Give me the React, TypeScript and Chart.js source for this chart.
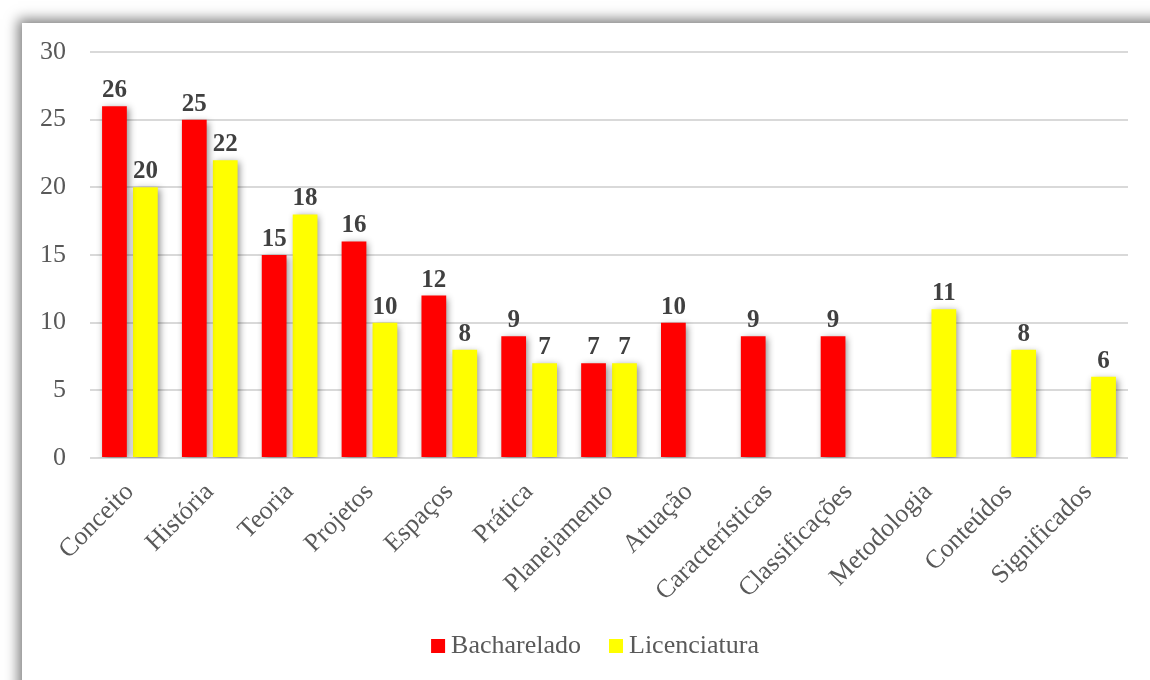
import React, { useEffect, useRef } from "react";
import { Chart, registerables } from "chart.js";

Chart.register(...registerables);

const categories = [
  "Conceito",
  "História",
  "Teoria",
  "Projetos",
  "Espaços",
  "Prática",
  "Planejamento",
  "Atuação",
  "Características",
  "Classificações",
  "Metodologia",
  "Conteúdos",
  "Significados",
];
const bacharelado = [26, 25, 15, 16, 12, 9, 7, 10, 9, 9, null, null, null];
const licenciatura = [20, 22, 18, 10, 8, 7, 7, null, null, null, 11, 8, 6];
const seriesNames = ["Bacharelado", "Licenciatura"];
const seriesColors = ["#FF0000", "#FFFF00"];
const yTicks = [0, 5, 10, 15, 20, 25, 30];

const FONT = "'Liberation Serif', 'Times New Roman', serif";

const shadowPlugin = {
  id: "barShadow",
  beforeDatasetsDraw(chart: any) {
    const ctx = chart.ctx;
    ctx.save();
    ctx.shadowColor = "rgba(0,0,0,0.45)";
    ctx.shadowBlur = 7;
    ctx.shadowOffsetX = 2;
    ctx.shadowOffsetY = 2;
  },
  afterDatasetsDraw(chart: any) {
    const ctx = chart.ctx;
    ctx.restore();
    ctx.save();
    ctx.font = `bold 25px ${FONT}`;
    ctx.fillStyle = "#404040";
    ctx.textAlign = "center";
    ctx.textBaseline = "bottom";
    chart.data.datasets.forEach((ds: any, i: number) => {
      const meta = chart.getDatasetMeta(i);
      meta.data.forEach((el: any, j: number) => {
        const v = ds.data[j];
        if (v === null || v === undefined) return;
        ctx.fillText(String(v), el.x, el.y - 3);
      });
    });
    ctx.restore();
  },
};

const legendPlugin = {
  id: "customLegend",
  afterDraw(chart: any) {
    const ctx = chart.ctx;
    const area = chart.chartArea;
    ctx.save();
    ctx.font = `26px ${FONT}`;
    ctx.textBaseline = "middle";
    ctx.textAlign = "left";
    const box = 14;
    const gapText = 6;
    const gapItem = 28;
    const widths = chart.data.datasets.map((d: any) => ctx.measureText(d.label).width);
    let total = 0;
    widths.forEach((w: number, i: number) => {
      total += box + gapText + w + (i > 0 ? gapItem : 0);
    });
    const cx = (area.left + area.right) / 2 - 14;
    const cy = area.bottom + 188;
    let x = cx - total / 2;
    chart.data.datasets.forEach((d: any, i: number) => {
      ctx.fillStyle = d.backgroundColor;
      ctx.fillRect(x, cy - box / 2, box, box);
      x += box + gapText;
      ctx.fillStyle = "#595959";
      ctx.fillText(d.label, x, cy);
      x += widths[i] + gapItem;
    });
    ctx.restore();
  },
};

export default function App() {
  const ref = useRef<HTMLCanvasElement | null>(null);
  useEffect(() => {
    if (!ref.current) return;
    const chart = new Chart(ref.current, {
      type: "bar",
      data: {
        labels: categories,
        datasets: [
          {
            label: seriesNames[0],
            data: bacharelado,
            backgroundColor: seriesColors[0],
            categoryPercentage: 0.775,
            barPercentage: 0.8,
          },
          {
            label: seriesNames[1],
            data: licenciatura,
            backgroundColor: seriesColors[1],
            categoryPercentage: 0.775,
            barPercentage: 0.8,
          },
        ],
      },
      options: {
        animation: false,
        responsive: false,
        maintainAspectRatio: false,
        layout: { padding: { top: 52, left: 22, right: 22, bottom: 72 } },
        plugins: {
          tooltip: { enabled: false },
          legend: { display: false },
        },
        scales: {
          x: {
            grid: { display: false },
            border: { display: false },
            ticks: {
              minRotation: 45,
              maxRotation: 45,
              color: "#595959",
              font: { family: FONT, size: 26 },
              padding: 11,
            },
            afterFit(scale: any) {
              scale.height = 150;
            },
          },
          y: {
            min: 0,
            max: 30,
            afterBuildTicks(scale: any) {
              scale.ticks = yTicks.map((v) => ({ value: v }));
            },
            grid: { color: "#d9d9d9", lineWidth: 2, drawTicks: false },
            border: { display: false },
            ticks: {
              color: "#595959",
              font: { family: FONT, size: 26 },
              padding: 24,
            },
            afterFit(scale: any) {
              scale.width = 68;
            },
          },
        },
      },
      plugins: [shadowPlugin, legendPlugin],
    });
    return () => chart.destroy();
  }, []);

  return (
    <div
      style={{
        position: "fixed",
        left: 0,
        top: 0,
        width: 1150,
        height: 680,
        overflow: "hidden",
        background: "#ffffff",
      }}
    >
      <div
        style={{
          position: "absolute",
          left: 22,
          top: 23,
          width: 1200,
          height: 720,
          background: "#ffffff",
          boxShadow: "0 0 12px 4px rgba(0,0,0,0.5)",
        }}
      />
      <canvas
        ref={ref}
        width={1150}
        height={680}
        style={{ position: "absolute", left: 0, top: 0 }}
      />
    </div>
  );
}
